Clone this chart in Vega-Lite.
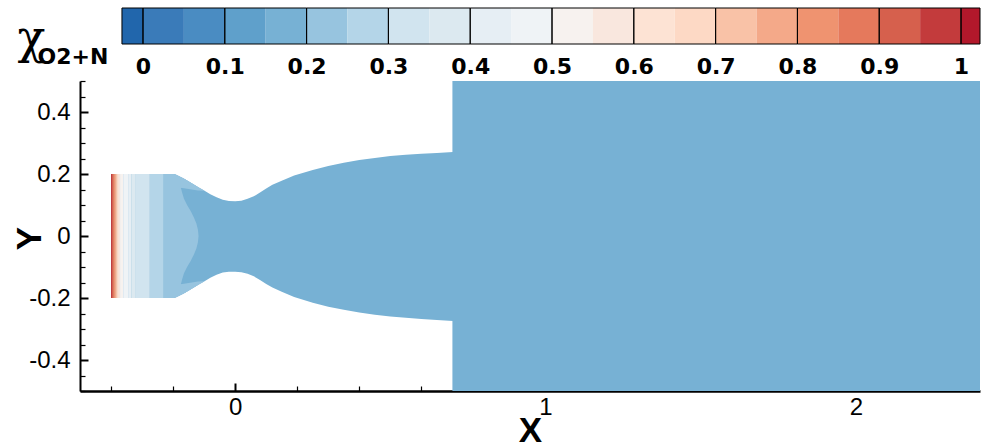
{
  "$schema": "https://vega.github.io/schema/vega-lite/v6.json",
  "background": "white",
  "padding": {"left": 12, "top": 7, "right": 21, "bottom": 0},
  "spacing": 37,
  "bounds": "flush",
  "resolve": {"scale": {"color": "shared"}},
  "config": {"view": {"stroke": null}, "axis": {"grid": false}},
  "datasets": {
    "bands": [
      {"lo": -0.0257, "hi": 0, "v": -0.01, "var": "O2+N"},
      {"lo": 0, "hi": 0.05, "v": 0.025, "var": "O2+N"},
      {"lo": 0.05, "hi": 0.1, "v": 0.075, "var": "O2+N"},
      {"lo": 0.1, "hi": 0.15, "v": 0.125, "var": "O2+N"},
      {"lo": 0.15, "hi": 0.2, "v": 0.175, "var": "O2+N"},
      {"lo": 0.2, "hi": 0.25, "v": 0.225, "var": "O2+N"},
      {"lo": 0.25, "hi": 0.3, "v": 0.275, "var": "O2+N"},
      {"lo": 0.3, "hi": 0.35, "v": 0.325, "var": "O2+N"},
      {"lo": 0.35, "hi": 0.4, "v": 0.375, "var": "O2+N"},
      {"lo": 0.4, "hi": 0.45, "v": 0.425, "var": "O2+N"},
      {"lo": 0.45, "hi": 0.5, "v": 0.475, "var": "O2+N"},
      {"lo": 0.5, "hi": 0.55, "v": 0.525, "var": "O2+N"},
      {"lo": 0.55, "hi": 0.6, "v": 0.575, "var": "O2+N"},
      {"lo": 0.6, "hi": 0.65, "v": 0.625, "var": "O2+N"},
      {"lo": 0.65, "hi": 0.7, "v": 0.675, "var": "O2+N"},
      {"lo": 0.7, "hi": 0.75, "v": 0.725, "var": "O2+N"},
      {"lo": 0.75, "hi": 0.8, "v": 0.775, "var": "O2+N"},
      {"lo": 0.8, "hi": 0.85, "v": 0.825, "var": "O2+N"},
      {"lo": 0.85, "hi": 0.9, "v": 0.875, "var": "O2+N"},
      {"lo": 0.9, "hi": 0.95, "v": 0.925, "var": "O2+N"},
      {"lo": 0.95, "hi": 1, "v": 0.975, "var": "O2+N"},
      {"lo": 1, "hi": 1.0232, "v": 1.01, "var": "O2+N"}
    ],
    "groups": [
      {"lo": -0.0257, "hi": 0, "var": "O2+N"},
      {"lo": 0, "hi": 0.1, "var": "O2+N"},
      {"lo": 0.1, "hi": 0.2, "var": "O2+N"},
      {"lo": 0.2, "hi": 0.3, "var": "O2+N"},
      {"lo": 0.3, "hi": 0.4, "var": "O2+N"},
      {"lo": 0.4, "hi": 0.5, "var": "O2+N"},
      {"lo": 0.5, "hi": 0.6, "var": "O2+N"},
      {"lo": 0.6, "hi": 0.7, "var": "O2+N"},
      {"lo": 0.7, "hi": 0.8, "var": "O2+N"},
      {"lo": 0.8, "hi": 0.9, "var": "O2+N"},
      {"lo": 0.9, "hi": 1, "var": "O2+N"},
      {"lo": 1, "hi": 1.0232, "var": "O2+N"}
    ],
    "wall": [
      {"x": -0.4, "lo": -0.2, "hi": 0.2, "v": 0.18},
      {"x": -0.195, "lo": -0.2, "hi": 0.2, "v": 0.18},
      {"x": -0.18, "lo": -0.193, "hi": 0.193, "v": 0.18},
      {"x": -0.16, "lo": -0.182, "hi": 0.182, "v": 0.18},
      {"x": -0.14, "lo": -0.17, "hi": 0.17, "v": 0.18},
      {"x": -0.12, "lo": -0.158, "hi": 0.158, "v": 0.18},
      {"x": -0.1, "lo": -0.147, "hi": 0.147, "v": 0.18},
      {"x": -0.08, "lo": -0.135, "hi": 0.135, "v": 0.18},
      {"x": -0.06, "lo": -0.125, "hi": 0.125, "v": 0.18},
      {"x": -0.04, "lo": -0.118, "hi": 0.117, "v": 0.18},
      {"x": -0.02, "lo": -0.115, "hi": 0.113, "v": 0.18},
      {"x": 0, "lo": -0.115, "hi": 0.112, "v": 0.18},
      {"x": 0.02, "lo": -0.117, "hi": 0.114, "v": 0.18},
      {"x": 0.04, "lo": -0.122, "hi": 0.12, "v": 0.18},
      {"x": 0.06, "lo": -0.13, "hi": 0.128, "v": 0.18},
      {"x": 0.08, "lo": -0.142, "hi": 0.14, "v": 0.18},
      {"x": 0.1, "lo": -0.155, "hi": 0.153, "v": 0.18},
      {"x": 0.12, "lo": -0.166, "hi": 0.165, "v": 0.18},
      {"x": 0.15, "lo": -0.18, "hi": 0.178, "v": 0.18},
      {"x": 0.19, "lo": -0.197, "hi": 0.195, "v": 0.18},
      {"x": 0.25, "lo": -0.215, "hi": 0.213, "v": 0.18},
      {"x": 0.3, "lo": -0.228, "hi": 0.226, "v": 0.18},
      {"x": 0.35, "lo": -0.238, "hi": 0.236, "v": 0.18},
      {"x": 0.4, "lo": -0.247, "hi": 0.245, "v": 0.18},
      {"x": 0.45, "lo": -0.254, "hi": 0.252, "v": 0.18},
      {"x": 0.5, "lo": -0.26, "hi": 0.258, "v": 0.18},
      {"x": 0.55, "lo": -0.264, "hi": 0.262, "v": 0.18},
      {"x": 0.6, "lo": -0.268, "hi": 0.265, "v": 0.18},
      {"x": 0.65, "lo": -0.271, "hi": 0.268, "v": 0.18},
      {"x": 0.702, "lo": -0.274, "hi": 0.271, "v": 0.18}
    ],
    "light": [
      {"y": 0.2, "xl": -0.25, "xr": -0.195, "v": 0.22},
      {"y": 0.193, "xl": -0.25, "xr": -0.18, "v": 0.22},
      {"y": 0.182, "xl": -0.25, "xr": -0.16, "v": 0.22},
      {"y": 0.17, "xl": -0.25, "xr": -0.14, "v": 0.22},
      {"y": 0.158, "xl": -0.25, "xr": -0.12, "v": 0.22},
      {"y": 0.156, "xl": -0.25, "xr": -0.175, "v": 0.22},
      {"y": 0.14, "xl": -0.25, "xr": -0.171, "v": 0.22},
      {"y": 0.12, "xl": -0.25, "xr": -0.165, "v": 0.22},
      {"y": 0.1, "xl": -0.25, "xr": -0.155, "v": 0.22},
      {"y": 0.08, "xl": -0.25, "xr": -0.143, "v": 0.22},
      {"y": 0.06, "xl": -0.25, "xr": -0.133, "v": 0.22},
      {"y": 0.04, "xl": -0.25, "xr": -0.125, "v": 0.22},
      {"y": 0.02, "xl": -0.25, "xr": -0.12, "v": 0.22},
      {"y": 0, "xl": -0.25, "xr": -0.118, "v": 0.22},
      {"y": -0.02, "xl": -0.25, "xr": -0.12, "v": 0.22},
      {"y": -0.04, "xl": -0.25, "xr": -0.125, "v": 0.22},
      {"y": -0.06, "xl": -0.25, "xr": -0.133, "v": 0.22},
      {"y": -0.08, "xl": -0.25, "xr": -0.143, "v": 0.22},
      {"y": -0.1, "xl": -0.25, "xr": -0.155, "v": 0.22},
      {"y": -0.12, "xl": -0.25, "xr": -0.165, "v": 0.22},
      {"y": -0.14, "xl": -0.25, "xr": -0.171, "v": 0.22},
      {"y": -0.156, "xl": -0.25, "xr": -0.175, "v": 0.22},
      {"y": -0.158, "xl": -0.25, "xr": -0.12, "v": 0.22},
      {"y": -0.17, "xl": -0.25, "xr": -0.14, "v": 0.22},
      {"y": -0.182, "xl": -0.25, "xr": -0.16, "v": 0.22},
      {"y": -0.193, "xl": -0.25, "xr": -0.18, "v": 0.22},
      {"y": -0.2, "xl": -0.25, "xr": -0.195, "v": 0.22}
    ],
    "sliver": [
      {"x": -0.175, "lo": 0.156, "hi": 0.19, "side": "top", "v": 0.22},
      {"x": -0.16, "lo": 0.153, "hi": 0.182, "side": "top", "v": 0.22},
      {"x": -0.14, "lo": 0.15, "hi": 0.17, "side": "top", "v": 0.22},
      {"x": -0.12, "lo": 0.147, "hi": 0.158, "side": "top", "v": 0.22},
      {"x": -0.1, "lo": 0.146, "hi": 0.147, "side": "top", "v": 0.22},
      {"x": -0.175, "lo": -0.19, "hi": -0.156, "side": "bottom", "v": 0.22},
      {"x": -0.16, "lo": -0.182, "hi": -0.153, "side": "bottom", "v": 0.22},
      {"x": -0.14, "lo": -0.17, "hi": -0.15, "side": "bottom", "v": 0.22},
      {"x": -0.12, "lo": -0.158, "hi": -0.147, "side": "bottom", "v": 0.22},
      {"x": -0.1, "lo": -0.147, "hi": -0.146, "side": "bottom", "v": 0.22}
    ],
    "cells": [
      {"x0": 0.7, "x1": 2.4, "y0": -0.5, "y1": 0.5, "v": 0.18},
      {"x0": -0.4, "x1": -0.3968, "y0": -0.2, "y1": 0.2, "v": 0.97},
      {"x0": -0.3968, "x1": -0.3935, "y0": -0.2, "y1": 0.2, "v": 0.92},
      {"x0": -0.3935, "x1": -0.3903, "y0": -0.2, "y1": 0.2, "v": 0.87},
      {"x0": -0.3903, "x1": -0.387, "y0": -0.2, "y1": 0.2, "v": 0.82},
      {"x0": -0.387, "x1": -0.3839, "y0": -0.2, "y1": 0.2, "v": 0.77},
      {"x0": -0.3839, "x1": -0.3806, "y0": -0.2, "y1": 0.2, "v": 0.72},
      {"x0": -0.3806, "x1": -0.3774, "y0": -0.2, "y1": 0.2, "v": 0.67},
      {"x0": -0.3774, "x1": -0.3742, "y0": -0.2, "y1": 0.2, "v": 0.62},
      {"x0": -0.3742, "x1": -0.371, "y0": -0.2, "y1": 0.2, "v": 0.57},
      {"x0": -0.371, "x1": -0.361, "y0": -0.2, "y1": 0.2, "v": 0.52},
      {"x0": -0.361, "x1": -0.345, "y0": -0.2, "y1": 0.2, "v": 0.47},
      {"x0": -0.345, "x1": -0.335, "y0": -0.2, "y1": 0.2, "v": 0.42},
      {"x0": -0.335, "x1": -0.3226, "y0": -0.2, "y1": 0.2, "v": 0.37},
      {"x0": -0.3226, "x1": -0.275, "y0": -0.2, "y1": 0.2, "v": 0.32},
      {"x0": -0.275, "x1": -0.232, "y0": -0.2, "y1": 0.2, "v": 0.27}
    ]
  },
  "vconcat": [
    {
      "width": 900,
      "height": 36,
      "layer": [
        {
          "data": {"name": "bands"},
          "mark": {"type": "rect"},
          "encoding": {
            "x": {"field": "lo", "type": "quantitative",
              "scale": {"domain": [-0.077, 1.0232], "nice": false, "zero": false},
              "axis": {"orient": "bottom", "values": [0, 0.1, 0.2, 0.3, 0.4, 0.5, 0.6, 0.7, 0.8, 0.9, 1], "format": "~g",
                "domain": false, "ticks": false, "grid": false, "title": null,
                "labelFont": "DejaVu Sans", "labelFontWeight": "bold", "labelFontSize": 22, "labelColor": "black",
                "labelBaseline": "alphabetic", "labelPadding": 29, "labelFlush": false, "labelOverlap": false}},
            "x2": {"field": "hi"},
            "y": {"field": "var", "type": "nominal",
              "scale": {"paddingInner": 0, "paddingOuter": 0},
              "axis": {"orient": "left", "domain": false, "ticks": false, "grid": false,
                "labelFont": "DejaVu Sans", "labelFontWeight": "bold", "labelFontSize": 22, "labelColor": "black",
                "labelAlign": "left", "labelBaseline": "alphabetic", "labelPadding": 43, "labelOffset": 38,
                "title": "χ", "titleAngle": 0, "titleFont": "DejaVu Serif", "titleFontWeight": "normal",
                "titleFontSize": 46, "titleColor": "black", "titleAlign": "center", "titleBaseline": "alphabetic",
                "titleX": -49, "titleY": 44}},
            "color": {"field": "v", "type": "quantitative",
              "scale": {"type": "threshold",
                "domain": [0, 0.05, 0.1, 0.15, 0.2, 0.25, 0.3, 0.35, 0.4, 0.45, 0.5, 0.55, 0.6, 0.65, 0.7, 0.75, 0.8, 0.85, 0.9, 0.95, 1],
                "range": ["#2166ac", "#3a7bb9", "#4a8cc2", "#5fa0cb", "#77b1d4", "#97c4df", "#b4d5e8", "#d1e4ef", "#dce9f0", "#e6eef4", "#eff3f6", "#f7f2ef", "#f9e7de", "#fde3d4", "#fdd9c5", "#f9c2a7", "#f4a989", "#ef9370", "#e5795c", "#d6604d", "#c33b3c", "#b2182b"]},
              "legend": null}
          }
        },
        {
          "data": {"name": "groups"},
          "mark": {"type": "rect", "fillOpacity": 0, "stroke": "black", "strokeWidth": 1},
          "encoding": {
            "x": {"field": "lo", "type": "quantitative"},
            "x2": {"field": "hi"},
            "y": {"field": "var", "type": "nominal"}
          }
        }
      ]
    },
    {
      "width": 900,
      "height": 310,
      "resolve": {"axis": {"x": "independent", "y": "independent"}},
      "layer": [
        {
          "data": {"name": "wall"},
          "mark": {"type": "area", "interpolate": "linear"},
          "encoding": {
            "x": {"field": "x", "type": "quantitative",
              "scale": {"domain": [-0.5, 2.4], "nice": false, "zero": false},
              "axis": {"orient": "bottom", "values": [0, 1, 2], "format": "d", "ticks": false,
                "domain": true, "domainColor": "black", "domainWidth": 2.5,
                "labelFont": "Liberation Sans", "labelFontSize": 24, "labelColor": "black",
                "labelBaseline": "alphabetic", "labelPadding": 23, "labelFlush": false,
                "title": "X", "titleFont": "Liberation Sans", "titleFontWeight": "bold", "titleFontSize": 35,
                "titleColor": "black", "titleAlign": "center", "titleBaseline": "alphabetic", "titleX": 450, "titleY": 50}},
            "y": {"field": "lo", "type": "quantitative",
              "scale": {"domain": [-0.5, 0.5], "nice": false, "zero": false},
              "axis": {"orient": "left", "values": [-0.4, -0.2, 0, 0.2, 0.4], "ticks": false,
                "labelExpr": "datum.value < 0 ? '-' + format(-datum.value, '~g') : format(datum.value, '~g')",
                "domain": true, "domainColor": "black", "domainWidth": 2,
                "labelFont": "Liberation Sans", "labelFontSize": 24, "labelColor": "black",
                "labelBaseline": "middle", "labelPadding": 10, "labelFlush": false,
                "title": "Y", "titleFont": "Liberation Sans", "titleFontWeight": "bold", "titleFontSize": 35,
                "titleColor": "black", "titleAngle": -90, "titleAlign": "center", "titleBaseline": "alphabetic",
                "titleX": -40, "titleY": 157}},
            "y2": {"field": "hi"},
            "color": {"field": "v", "type": "quantitative",
              "scale": {"type": "threshold",
                "domain": [0, 0.05, 0.1, 0.15, 0.2, 0.25, 0.3, 0.35, 0.4, 0.45, 0.5, 0.55, 0.6, 0.65, 0.7, 0.75, 0.8, 0.85, 0.9, 0.95, 1],
                "range": ["#2166ac", "#3a7bb9", "#4a8cc2", "#5fa0cb", "#77b1d4", "#97c4df", "#b4d5e8", "#d1e4ef", "#dce9f0", "#e6eef4", "#eff3f6", "#f7f2ef", "#f9e7de", "#fde3d4", "#fdd9c5", "#f9c2a7", "#f4a989", "#ef9370", "#e5795c", "#d6604d", "#c33b3c", "#b2182b"]},
              "legend": null}
          }
        },
        {
          "data": {"name": "light"},
          "mark": {"type": "area", "orient": "horizontal", "interpolate": "linear"},
          "encoding": {
            "y": {"field": "y", "type": "quantitative",
              "scale": {"domain": [-0.5, 0.5], "nice": false, "zero": false},
              "axis": {"orient": "left", "values": [-0.4, -0.2, 0, 0.2, 0.4], "labels": false, "domain": false,
                "ticks": true, "tickSize": -8, "tickWidth": 2, "tickColor": "black", "title": null}},
            "x": {"field": "xl", "type": "quantitative",
              "scale": {"domain": [-0.5, 2.4], "nice": false, "zero": false},
              "axis": {"orient": "bottom", "values": [0, 1, 2], "labels": false, "domain": false,
                "ticks": true, "tickSize": -8, "tickWidth": 2, "tickColor": "black", "title": null}},
            "x2": {"field": "xr"},
            "color": {"field": "v", "type": "quantitative",
              "scale": {"type": "threshold",
                "domain": [0, 0.05, 0.1, 0.15, 0.2, 0.25, 0.3, 0.35, 0.4, 0.45, 0.5, 0.55, 0.6, 0.65, 0.7, 0.75, 0.8, 0.85, 0.9, 0.95, 1],
                "range": ["#2166ac", "#3a7bb9", "#4a8cc2", "#5fa0cb", "#77b1d4", "#97c4df", "#b4d5e8", "#d1e4ef", "#dce9f0", "#e6eef4", "#eff3f6", "#f7f2ef", "#f9e7de", "#fde3d4", "#fdd9c5", "#f9c2a7", "#f4a989", "#ef9370", "#e5795c", "#d6604d", "#c33b3c", "#b2182b"]},
              "legend": null}
          }
        },
        {
          "data": {"name": "sliver"},
          "mark": {"type": "area", "interpolate": "linear"},
          "encoding": {
            "x": {"field": "x", "type": "quantitative",
              "scale": {"domain": [-0.5, 2.4], "nice": false, "zero": false},
              "axis": {"orient": "bottom", "values": [-0.4, -0.2, 0.2, 0.4, 0.6, 0.8, 1.2, 1.4, 1.6, 1.8, 2.2], "labels": false, "domain": false,
                "ticks": true, "tickSize": -5, "tickWidth": 1.2, "tickColor": "black", "title": null}},
            "y": {"field": "lo", "type": "quantitative",
              "scale": {"domain": [-0.5, 0.5], "nice": false, "zero": false},
              "axis": {"orient": "left", "values": [-0.5, -0.45, -0.35, -0.3, -0.25, -0.15, -0.1, -0.05, 0.05, 0.1, 0.15, 0.25, 0.3, 0.35, 0.45, 0.5], "labels": false, "domain": false,
                "ticks": true, "tickSize": -5, "tickWidth": 1.2, "tickColor": "black", "title": null}},
            "y2": {"field": "hi"},
            "detail": {"field": "side"},
            "color": {"field": "v", "type": "quantitative",
              "scale": {"type": "threshold",
                "domain": [0, 0.05, 0.1, 0.15, 0.2, 0.25, 0.3, 0.35, 0.4, 0.45, 0.5, 0.55, 0.6, 0.65, 0.7, 0.75, 0.8, 0.85, 0.9, 0.95, 1],
                "range": ["#2166ac", "#3a7bb9", "#4a8cc2", "#5fa0cb", "#77b1d4", "#97c4df", "#b4d5e8", "#d1e4ef", "#dce9f0", "#e6eef4", "#eff3f6", "#f7f2ef", "#f9e7de", "#fde3d4", "#fdd9c5", "#f9c2a7", "#f4a989", "#ef9370", "#e5795c", "#d6604d", "#c33b3c", "#b2182b"]},
              "legend": null}
          }
        },
        {
          "data": {"name": "cells"},
          "mark": {"type": "rect"},
          "encoding": {
            "x": {"field": "x0", "type": "quantitative", "scale": {"domain": [-0.5, 2.4], "nice": false, "zero": false}, "axis": null},
            "x2": {"field": "x1"},
            "y": {"field": "y0", "type": "quantitative", "scale": {"domain": [-0.5, 0.5], "nice": false, "zero": false}, "axis": null},
            "y2": {"field": "y1"},
            "color": {"field": "v", "type": "quantitative",
              "scale": {"type": "threshold",
                "domain": [0, 0.05, 0.1, 0.15, 0.2, 0.25, 0.3, 0.35, 0.4, 0.45, 0.5, 0.55, 0.6, 0.65, 0.7, 0.75, 0.8, 0.85, 0.9, 0.95, 1],
                "range": ["#2166ac", "#3a7bb9", "#4a8cc2", "#5fa0cb", "#77b1d4", "#97c4df", "#b4d5e8", "#d1e4ef", "#dce9f0", "#e6eef4", "#eff3f6", "#f7f2ef", "#f9e7de", "#fde3d4", "#fdd9c5", "#f9c2a7", "#f4a989", "#ef9370", "#e5795c", "#d6604d", "#c33b3c", "#b2182b"]},
              "legend": null}
          }
        }
      ]
    }
  ]
}
